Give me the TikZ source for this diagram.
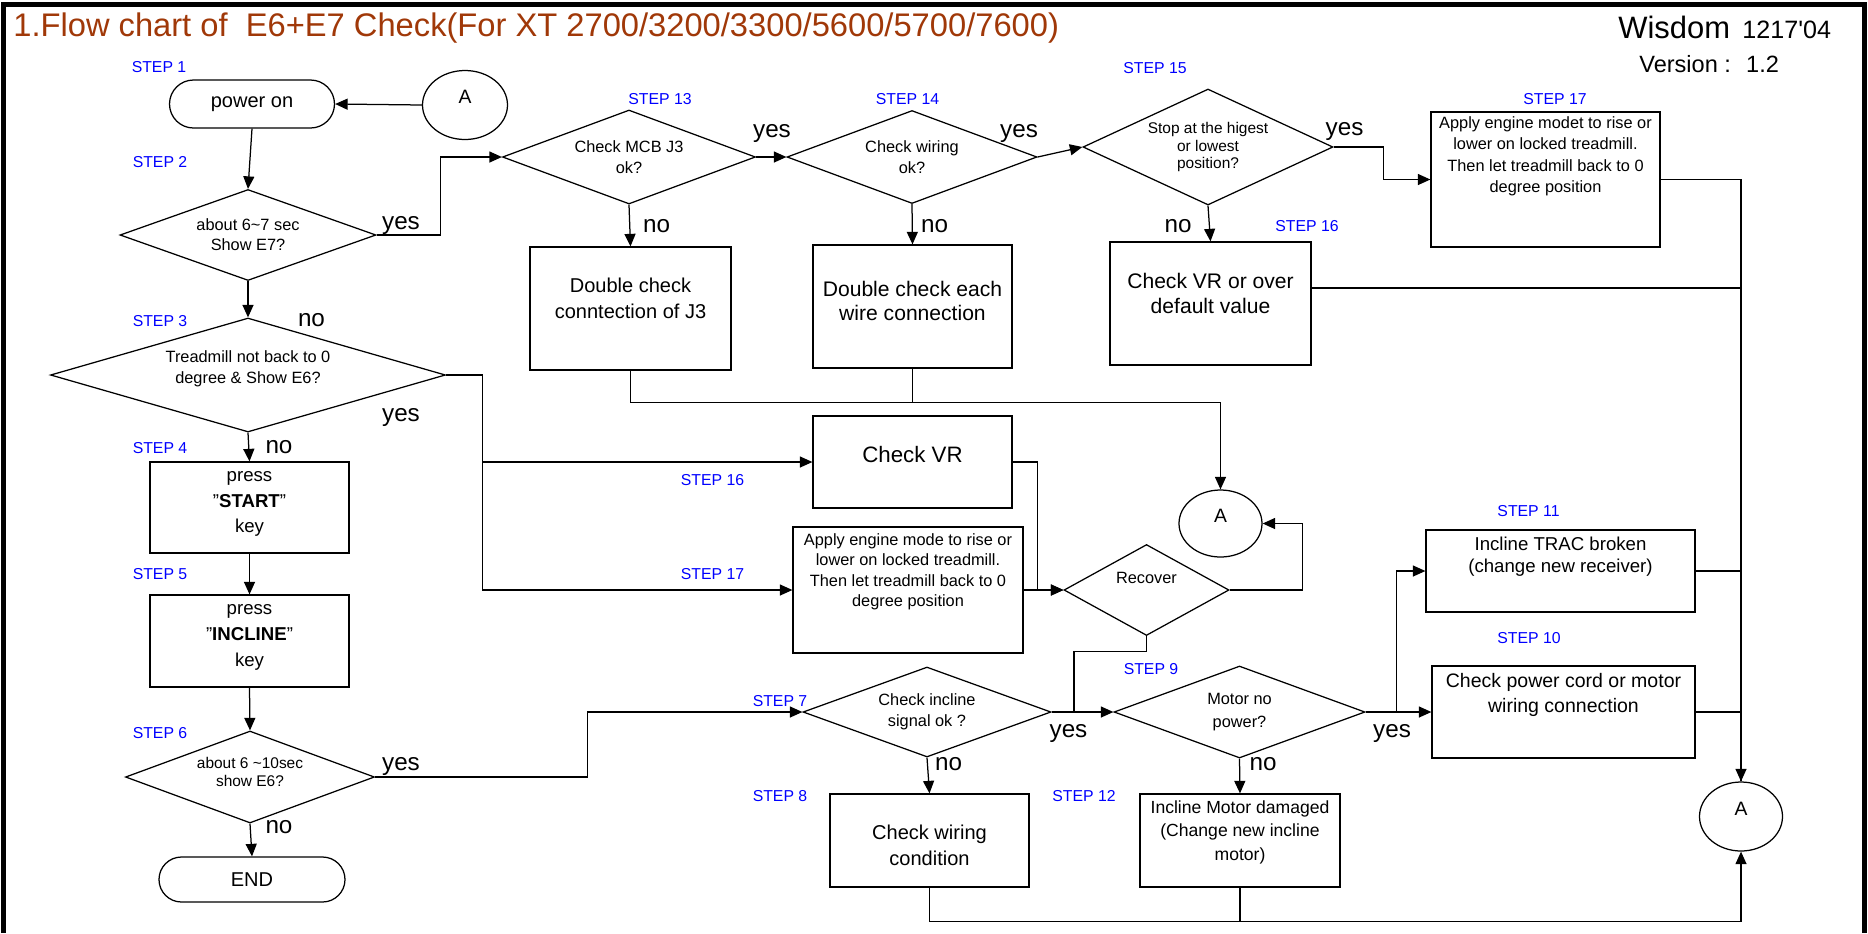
\documentclass[tikz,border=0pt]{standalone}
\usepackage{fontspec}
\setmainfont{Liberation Sans}
\usetikzlibrary{shapes.geometric,arrows.meta}

\definecolor{titlebrown}{RGB}{160,56,8}
\newcommand{\fs}[2]{\fontsize{#1}{#2}\selectfont}
\newcommand{\boxtext}[4]{\parbox[c][#1][t]{#2}{\centering\rule{0pt}{#3}#4}}

\tikzset{
  flow/.style={line width=0.25mm},
  arr/.style={flow, -{Triangle[length=2.5mm,width=2.2mm]}},
  steplbl/.style={text=blue, inner sep=0, font=\fs{9pt}{11pt}},
  yesno/.style={anchor=base, inner sep=0, font=\fs{13.8pt}{16pt}},
  decision/.style={diamond, draw, flow, inner sep=0, align=center, font=\fs{9.3pt}{11.6pt}},
  stepbox/.style={rectangle, draw, flow, inner sep=0},
  terminal/.style={rectangle, draw, flow, rounded corners=4.6mm, font=\fs{11.4pt}{13pt}},
  connector/.style={ellipse, draw, flow, inner sep=0, text depth=3.2mm, font=\fs{11pt}{13pt}},
}

\begin{document}
\begin{tikzpicture}[x=0.2mm, y=-0.2mm]
\useasboundingbox (0,0) rectangle (1868,933);
\draw[line width=1mm] (3.5,933) -- (3.5,4) -- (1864,4) -- (1864,933);

% header
\node[anchor=base west, inner sep=0, text=titlebrown, font=\fs{18.6pt}{20pt}] (Title) at (13,36.5) {1.Flow chart of~ E6+E7 Check(For XT 2700/3200/3300/5600/5700/7600)};
\node[anchor=base west, inner sep=0, font=\fs{17.6pt}{20pt}] (Wis) at (1618,38) {Wisdom};
\node[anchor=base west, inner sep=0, font=\fs{14.3pt}{16pt}] (Date) at (1742,38) {1217\textquotesingle 04};
\node[anchor=base west, inner sep=0, font=\fs{13.4pt}{16pt}] (Ver) at (1639,72.7) {Version :~ 1.2};

% left column
\node[terminal, minimum width=33mm, minimum height=9.6mm, rounded corners=4.8mm] (S1) at (252,104) {power on};
\node[connector, minimum width=17mm, minimum height=13.8mm] (A1) at (465,105) {A};
\node[decision, minimum width=51.2mm, minimum height=18.2mm, aspect=2.81, font=\fs{9.3pt}{11.4pt}] (S2) at (248,235) {about 6\textasciitilde 7 sec\\Show E7?};
\node[decision, minimum width=79mm, minimum height=22.8mm, aspect=3.46, font=\fs{9.3pt}{12pt}, text depth=3.1mm] (S3) at (248,375) {Treadmill not back to 0\\degree \& Show E6?};
\node[stepbox, font=\fs{10.6pt}{14.6pt}] (S4) at (249.5,507.5) {\boxtext{18.2mm}{39.8mm}{3.9mm}{press\\"\textbf{START}"\\key}};
\node[stepbox, font=\fs{10.6pt}{14.8pt}] (S5) at (249.5,641) {\boxtext{18.4mm}{39.8mm}{3.8mm}{press\\"\textbf{INCLINE}"\\key}};
\node[decision, minimum width=49.8mm, minimum height=18.4mm, aspect=2.7, font=\fs{8.8pt}{10.2pt}, text depth=2.1mm] (S6) at (250,777) {about 6 \textasciitilde 10sec\\show E6?};
\node[terminal, minimum width=37.2mm, minimum height=9mm, rounded corners=4.5mm] (E1) at (252,879.5) {END};

% top row
\node[decision, minimum width=50.6mm, minimum height=18.8mm, aspect=2.69, font=\fs{9.3pt}{11.8pt}] (S13) at (629,157) {Check MCB J3\\ok?};
\node[decision, minimum width=50mm, minimum height=18.6mm, aspect=2.69, font=\fs{9.3pt}{11.8pt}] (S14) at (912,157) {Check wiring\\ok?};
\node[decision, minimum width=50mm, minimum height=23.2mm, aspect=2.16, font=\fs{8.8pt}{10.2pt}] (S15) at (1208,147) {Stop at the higest\\or lowest\\position?};
\node[stepbox, font=\fs{9.3pt}{12.1pt}] (S17a) at (1545.5,179.5) {\boxtext{27mm}{45.8mm}{3.3mm}{Apply engine modet to rise or\\lower on locked treadmill.\\Then let treadmill back to 0\\degree position}};
\node[stepbox, font=\fs{11.4pt}{15pt}] (N13) at (630.5,308.5) {\boxtext{24.6mm}{40.2mm}{9.1mm}{Double check\\conntection of J3}};
\node[stepbox, font=\fs{12pt}{13.8pt}] (N14) at (912.5,306.5) {\boxtext{24.6mm}{39.8mm}{10.3mm}{Double check each\\wire connection}};
\node[stepbox, font=\fs{12pt}{14.2pt}] (S16a) at (1210.5,303.5) {\boxtext{24.6mm}{40.2mm}{9.3mm}{Check VR or over\\default value}};

% middle
\node[stepbox, font=\fs{12.7pt}{15pt}] (S16b) at (912.5,462) {\boxtext{18.4mm}{39.8mm}{9.3mm}{Check VR}};
\node[stepbox, font=\fs{9.3pt}{11.7pt}] (S17b) at (908,590) {\boxtext{25.2mm}{46mm}{3.6mm}{Apply engine mode to rise or\\lower on locked treadmill.\\Then let treadmill back to 0\\degree position}};
\node[connector, minimum width=16.6mm, minimum height=13.4mm] (A2) at (1220.5,523.5) {A};
\node[decision, minimum width=33mm, minimum height=18.2mm, aspect=1.81, text depth=4.8mm] (R) at (1146.5,590) {Recover};
\node[stepbox, font=\fs{10.6pt}{12.9pt}] (S11) at (1560.5,571) {\boxtext{16.4mm}{53.8mm}{4mm}{Incline TRAC broken\\(change new receiver)}};

% bottom row
\node[decision, minimum width=49.6mm, minimum height=18mm, aspect=2.76, font=\fs{9.3pt}{11.8pt}] (S7) at (927,712) {Check incline\\signal ok ?};
\node[stepbox, font=\fs{11.4pt}{15pt}] (S8) at (929.5,840.5) {\boxtext{18.6mm}{39.8mm}{9.1mm}{Check wiring\\condition}};
\node[decision, minimum width=50.2mm, minimum height=18.4mm, aspect=2.73, font=\fs{9.3pt}{13.5pt}] (S9) at (1239.5,712) {Motor no\\power?};
\node[stepbox, font=\fs{10pt}{13.3pt}] (S12) at (1240,840.5) {\boxtext{18.6mm}{40mm}{3.9mm}{Incline Motor damaged\\(Change new incline\\motor)}};
\node[stepbox, font=\fs{11.1pt}{14.4pt}] (S10) at (1563.5,712) {\boxtext{18.4mm}{52.6mm}{4.3mm}{Check power cord or motor\\wiring connection}};
\node[connector, minimum width=16.6mm, minimum height=13.8mm] (A3) at (1741,816.5) {A};
\coordinate (Jm) at (1074,712);

% step labels
\node[steplbl] (T1) at (159,67.5) {STEP 1};
\node[steplbl] (T2) at (160,162) {STEP 2};
\node[steplbl] (T3) at (160,321) {STEP 3};
\node[steplbl] (T4) at (160,448.5) {STEP 4};
\node[steplbl] (T5) at (160,574.5) {STEP 5};
\node[steplbl] (T6) at (160,733.5) {STEP 6};
\node[steplbl] (T7) at (780,701.5) {STEP 7};
\node[steplbl] (T8) at (780,796.5) {STEP 8};
\node[steplbl] (T9) at (1151,669) {STEP 9};
\node[steplbl] (T10) at (1529,638.5) {STEP 10};
\node[steplbl] (T11) at (1528.5,511.5) {STEP 11};
\node[steplbl] (T12) at (1084,796.5) {STEP 12};
\node[steplbl] (T13) at (660,99.5) {STEP 13};
\node[steplbl] (T14) at (907.5,99.5) {STEP 14};
\node[steplbl] (T15) at (1155,68) {STEP 15};
\node[steplbl] (T16a) at (1307,226.5) {STEP 16};
\node[steplbl] (T16b) at (712.5,480) {STEP 16};
\node[steplbl] (T17a) at (1555,99.5) {STEP 17};
\node[steplbl] (T17b) at (712.5,574.5) {STEP 17};

% yes / no
\node[yesno] (Y2) at (401,229) {yes};
\node[yesno] (N2) at (311.5,326.7) {no};
\node[yesno] (Y3) at (401,421.7) {yes};
\node[yesno] (N3) at (279,453.3) {no};
\node[yesno] (Y6) at (401,770) {yes};
\node[yesno] (N6) at (279,833.3) {no};
\node[yesno] (Y13) at (772,137) {yes};
\node[yesno] (N13l) at (656.5,232) {no};
\node[yesno] (Y14) at (1019,137) {yes};
\node[yesno] (N14l) at (934.5,232) {no};
\node[yesno] (Y15) at (1344.5,135) {yes};
\node[yesno] (N15) at (1178,232) {no};
\node[yesno] (Y7) at (1068.5,737.3) {yes};
\node[yesno] (N7) at (948.5,770) {no};
\node[yesno] (Y9) at (1392,737.3) {yes};
\node[yesno] (N9) at (1263,770) {no};

% straight arrows
\path[arr]
(A1.west) edge (S1.east)
(S1.south) edge (S2.north)
(S2.south) edge (S3.north)
(S3.south) edge (S4.north)
(S4.south) edge (S5.north)
(S5.south) edge (S6.north)
(S6.south) edge (E1.north)
(S13.east) edge (S14.west)
(S14.east) edge (S15.west)
(S13.south) edge (N13.north)
(S14.south) edge (N14.north)
(S15.south) edge (S16a.north)
(S17b.east) edge (R.west)
(S7.east) edge (S9.west)
(S7.south) edge (S8.north)
(S9.south) edge (S12.north)
(S9.east) edge (S10.west);

% elbow connectors
\draw[arr] (S2.east) -- ++(64,0) |- (S13.west);
\draw[arr] (S15.east) -- ++(50,0) |- (S17a.west);
\draw[arr] (S3.east) -- ++(36,0) |- (S16b.west);
\draw[arr] (S3.east) -- ++(36,0) |- (S17b.west);
\draw[arr] (S16b.east) -- ++(25,0) |- (R.west);
\draw[arr] (N13.south) -- ++(0,32) -| (A2.north);
\draw[flow] (N14.south) -- ++(0,34);
\draw[arr] (R.east) -- ++(73,0) |- (A2.east);
\draw[flow] (R.south) -- ++(0,15) -| (Jm);
\draw[arr] (S6.east) -- ++(212.5,0) |- (S7.west);
\draw[arr] (S9.east) -- ++(31,0) |- (S11.west);
\draw[arr] (S17a.east) -| (A3.north);
\draw[flow] ([yshift=3.1mm]S16a.east) -| (A3.north);
\draw[flow] (S11.east) -| (A3.north);
\draw[flow] (S10.east) -| (A3.north);
\draw[arr] (S8.south) -- ++(0,34) -| (A3.south);
\draw[flow] (S12.south) -- ++(0,34);
\end{tikzpicture}
\end{document}
